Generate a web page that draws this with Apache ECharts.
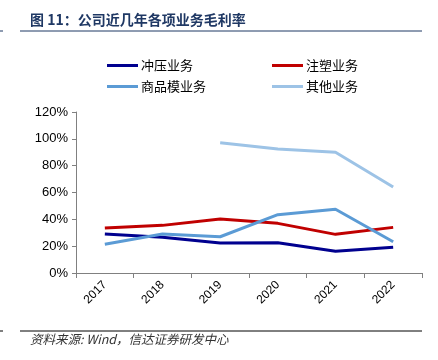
<!DOCTYPE html>
<html><head><meta charset="utf-8">
<script src="https://cdn.jsdelivr.net/npm/echarts@6/dist/echarts.min.js"></script>
<style>html,body{margin:0;padding:0;background:#fff}#c{width:438px;height:360px}</style>
</head><body><div id="c"></div>
<script>
const years = ['2017','2018','2019','2020','2021','2022'];
const stamping = [29.1, 26.6, 22.4, 22.6, 16.2, 19.2];
const injection = [33.5, 35.5, 40.2, 37.0, 28.8, 34.0];
const molds = [21.4, 29.0, 27.0, 43.5, 47.5, 23.3];
const others = [null, null, 97.1, 92.4, 90.0, 64.1];
const yTicks = [0, 20, 40, 60, 80, 100, 120];
const names = ['冲压业务','注塑业务','商品模业务','其他业务'];
const colors = ['#00008F','#C00000','#5B9BD5','#9DC3E6'];

const font = '"Liberation Sans","Noto Sans CJK SC",sans-serif';
const chart = echarts.init(document.getElementById('c'));
const mk = (i, data) => ({
  name: names[i], type: 'line', data: data, showSymbol: false, symbol: 'none',
  lineStyle: {width: 3, color: colors[i]}, itemStyle: {color: colors[i]},
  connectNulls: false, animation: false
});
const legendCommon = {
  orient: 'vertical', icon: 'rect', itemWidth: 31, itemHeight: 3, itemGap: 8,
  textStyle: {fontSize: 13, color: '#000', fontFamily: '"Noto Sans CJK SC",sans-serif', padding: [0,0,0,-2]},
  padding: 0
};
chart.setOption({
  animation: false,
  grid: {left: 76, right: 16, top: 112, bottom: 87},
  legend: [
    Object.assign({}, legendCommon, {left: 107, top: 59, data: [names[0], names[2]]}),
    Object.assign({}, legendCommon, {left: 272, top: 59, data: [names[1], names[3]]})
  ],
  xAxis: {
    type: 'category', data: years, boundaryGap: true,
    axisLine: {lineStyle: {color: '#808080', width: 1}},
    axisTick: {show: true, length: 5, lineStyle: {color: '#808080'}},
    axisLabel: {rotate: 45, fontSize: 12, color: '#000', fontFamily: font, margin: 10}
  },
  yAxis: {
    type: 'value', min: yTicks[0], max: yTicks[yTicks.length-1], interval: 20,
    axisLine: {show: true, lineStyle: {color: '#808080', width: 1}},
    axisTick: {show: true, length: 4, lineStyle: {color: '#808080'}},
    splitLine: {show: false},
    axisLabel: {formatter: v => v + '%', fontSize: 13, color: '#000', fontFamily: font, margin: 8}
  },
  series: [mk(0, stamping), mk(1, injection), mk(2, molds), mk(3, others)],
  graphic: [
    {type: 'text', left: 30, top: 13, style: {text: '图 11：公司近几年各项业务毛利率', fontSize: 14, fontWeight: 'bold', fill: '#1F3864', fontFamily: '"Noto Sans CJK SC",sans-serif'}},
    {type: 'line', shape: {x1: 20, y1: 31, x2: 422, y2: 31}, style: {stroke: '#1F3864', lineWidth: 1}},
    {type: 'line', shape: {x1: 0, y1: 31, x2: 3, y2: 31}, style: {stroke: '#1F3864', lineWidth: 1}},
    {type: 'line', shape: {x1: 20, y1: 331, x2: 422, y2: 331}, style: {stroke: '#000', lineWidth: 1}},
    {type: 'line', shape: {x1: 0, y1: 331, x2: 3, y2: 331}, style: {stroke: '#000', lineWidth: 1}},
    {type: 'text', left: 30, top: 333, style: {text: '资料来源: Wind，信达证券研发中心', fontSize: 12.5, fontStyle: 'italic', fill: '#333', fontFamily: '"Noto Sans CJK SC",sans-serif'}}
  ]
});
</script></body></html>
